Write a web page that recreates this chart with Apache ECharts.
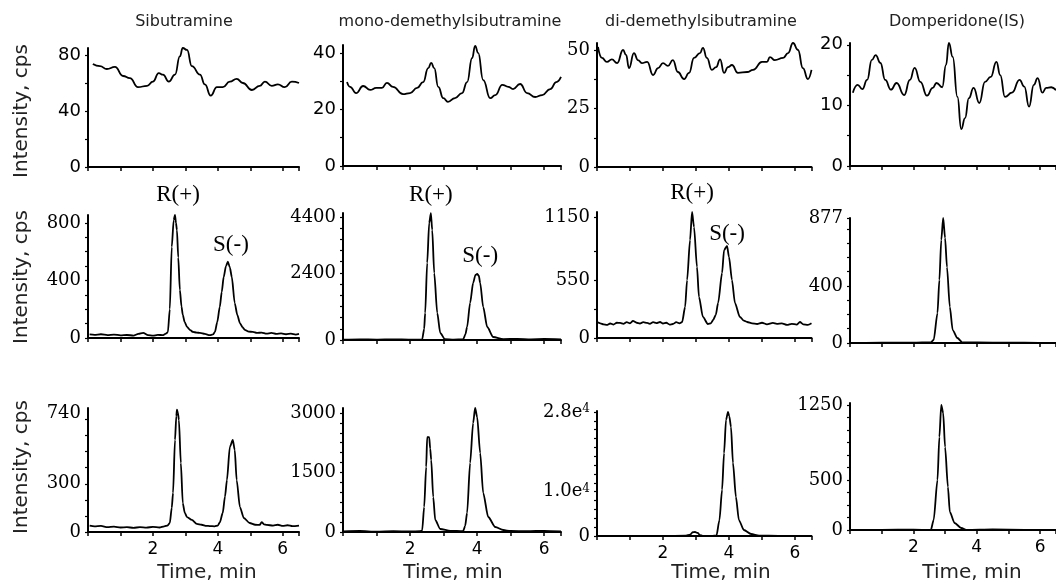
<!DOCTYPE html>
<html><head><meta charset="utf-8">
<script src="https://cdn.jsdelivr.net/npm/echarts@6/dist/echarts.min.js"></script>
<style>html,body{margin:0;padding:0;background:#fff}#c{width:1056px;height:585px}</style>
</head><body><div id="c"></div><script>
// ---------- text ----------
const columnTitles = ['Sibutramine', 'mono-demethylsibutramine', 'di-demethylsibutramine', 'Domperidone(IS)'];
const yTitle = 'Intensity, cps';
const xTitle = 'Time, min';
const xTickLabels = [2, 4, 6];

// ---------- row 1: blank ----------
const sibBlank = [[0.15,73.6],[0.37,72],[0.58,70],[0.83,71.5],[1.08,65],[1.29,63.5],[1.54,57],[1.82,58],[2.0,61],[2.18,67],[2.31,66],[2.49,61],[2.68,66],[2.83,79],[2.92,85],[3.05,83.6],[3.2,72],[3.45,66],[3.6,59],[3.78,51],[3.97,57],[4.15,57],[4.37,61],[4.58,63],[4.77,60],[5.05,55],[5.29,58],[5.45,61],[5.66,58],[5.85,59],[6.06,57],[6.28,61],[6.5,60]];
const monoBlank = [[0.12,29.7],[0.21,28],[0.39,25.8],[0.6,28.3],[0.81,26.9],[0.99,27.6],[1.16,27.6],[1.31,29.4],[1.49,28],[1.79,25.4],[2.0,25.8],[2.21,27.6],[2.39,29.7],[2.54,34.6],[2.63,36.5],[2.72,34.6],[2.84,28],[2.99,24],[3.13,22.7],[3.34,24],[3.55,25.8],[3.7,29.7],[3.85,38.2],[3.94,42.5],[4.03,40],[4.18,30.4],[4.39,24],[4.54,25.1],[4.75,28.7],[4.93,28],[5.07,27.2],[5.28,29],[5.49,25.8],[5.73,24.4],[5.94,25.1],[6.18,27.2],[6.36,29.7],[6.5,31.5]];
const diBlank = [[0.03,51.3],[0.15,46.6],[0.3,44.9],[0.45,46],[0.61,44.4],[0.79,50],[0.88,47.9],[0.97,42.3],[1.12,48.7],[1.24,45.7],[1.36,44.4],[1.52,44.9],[1.7,39.3],[1.85,42.3],[2.0,44.4],[2.15,43.2],[2.3,45.7],[2.45,40.6],[2.64,37.6],[2.79,40.2],[2.94,46.6],[3.12,48.7],[3.21,50.9],[3.33,46.6],[3.48,41.5],[3.61,42.7],[3.73,46],[3.85,40.2],[3.97,42.7],[4.09,43.6],[4.27,40.2],[4.55,40.6],[4.73,41.5],[5.0,44.9],[5.15,44.9],[5.24,47],[5.39,45.7],[5.64,46.6],[5.79,48.7],[5.94,53],[6.09,50],[6.24,42.3],[6.39,37.6],[6.5,41.5]];
const domBlank = [[0.09,12.1],[0.24,13.4],[0.39,12.7],[0.54,14.2],[0.69,17.5],[0.81,18.3],[0.96,17],[1.11,14.2],[1.29,12.6],[1.47,13.7],[1.71,11.7],[1.89,14.2],[2.04,16.2],[2.22,13.9],[2.43,11.6],[2.61,12.9],[2.73,13.7],[2.91,13],[3.03,16.7],[3.12,20.3],[3.24,18],[3.39,11.4],[3.51,6.1],[3.63,7.9],[3.75,11.2],[3.9,12.9],[4.08,10.4],[4.26,13.9],[4.44,14.7],[4.62,17.2],[4.74,15],[4.89,11.4],[5.11,12.1],[5.35,14.2],[5.5,13.1],[5.65,9.8],[5.8,13.4],[5.92,14.5],[6.07,12.1],[6.19,12.9],[6.35,13],[6.5,12.5]];

// ---------- row 2: standard ----------
const sibStd = [[0.05,25],[0.2,22],[0.4,26],[0.6,20],[0.8,24],[1.0,18],[1.2,21],[1.4,17],[1.55,28],[1.7,35],[1.85,20],[2.0,16],[2.15,22],[2.3,20],[2.4,30],[2.46,40],[2.52,200],[2.58,633],[2.64,820],[2.68,855],[2.71,800],[2.74,750],[2.78,560],[2.83,334],[2.88,220],[2.92,160],[2.98,110],[3.05,77],[3.15,55],[3.23,42],[3.35,38],[3.45,35],[3.6,28],[3.75,20],[3.85,25],[3.91,42],[3.98,110],[4.06,216],[4.12,320],[4.18,424],[4.25,500],[4.31,530],[4.37,490],[4.43,424],[4.52,243],[4.6,160],[4.68,104],[4.76,75],[4.83,56],[4.95,45],[5.08,42],[5.2,35],[5.35,38],[5.5,30],[5.65,35],[5.8,28],[5.95,32],[6.1,26],[6.25,30],[6.4,24],[6.5,28]];
const monoStd = [[0,10],[0.5,20],[1.0,15],[1.5,25],[2.0,15],[2.3,10],[2.36,20],[2.42,400],[2.45,966],[2.51,2755],[2.57,4186],[2.62,4540],[2.66,3935],[2.72,2397],[2.81,966],[2.9,250],[3.04,30],[3.3,15],[3.58,20],[3.65,200],[3.7,465],[3.79,1324],[3.88,2039],[3.95,2330],[4.0,2361],[4.05,2300],[4.09,2039],[4.18,1180],[4.3,465],[4.48,107],[4.78,30],[5.2,40],[5.6,25],[6.0,35],[6.5,20]];
const diStd = [[0,152],[0.1,140],[0.2,130],[0.3,124],[0.4,138],[0.5,128],[0.6,145],[0.7,143],[0.8,135],[0.9,150],[1.0,140],[1.09,162],[1.2,145],[1.3,138],[1.4,150],[1.52,143],[1.6,135],[1.7,150],[1.8,142],[1.91,152],[2.0,138],[2.1,145],[2.2,128],[2.3,133],[2.4,150],[2.5,140],[2.58,152],[2.67,295],[2.73,551],[2.82,932],[2.88,1198],[2.94,1055],[3.03,675],[3.09,390],[3.21,200],[3.36,133],[3.45,140],[3.52,171],[3.6,220],[3.67,333],[3.79,618],[3.85,836],[3.94,875],[4.0,770],[4.09,551],[4.18,333],[4.33,200],[4.45,165],[4.55,152],[4.7,140],[4.85,133],[5.0,145],[5.15,130],[5.33,143],[5.45,135],[5.6,140],[5.76,124],[5.9,135],[6.05,128],[6.15,152],[6.25,130],[6.39,124],[6.5,140]];
const domStd = [[0,0],[1,3],[2,2],[2.55,5],[2.64,21],[2.76,210],[2.82,442],[2.88,723],[2.94,877],[3.0,737],[3.06,533],[3.15,253],[3.24,91],[3.39,35],[3.54,5],[4.5,3],[5.5,2],[6.5,0]];

// ---------- row 3: sample ----------
const sibSample = [[0.05,40],[0.2,35],[0.4,38],[0.6,30],[0.8,33],[1.0,28],[1.2,30],[1.4,26],[1.6,30],[1.8,27],[2.0,32],[2.2,28],[2.35,35],[2.45,40],[2.52,56],[2.58,150],[2.62,243],[2.68,572],[2.72,720],[2.74,760],[2.77,740],[2.8,697],[2.86,429],[2.92,180],[2.98,120],[3.05,93],[3.2,75],[3.35,50],[3.5,45],[3.65,38],[3.75,37],[3.9,35],[4.0,40],[4.06,60],[4.15,118],[4.22,220],[4.28,323],[4.37,529],[4.46,572],[4.52,510],[4.58,323],[4.68,155],[4.8,87],[4.98,56],[5.15,45],[5.29,44],[5.35,62],[5.42,48],[5.51,44],[5.7,40],[5.85,45],[6.0,38],[6.15,42],[6.3,36],[6.5,40]];
const monoSample = [[0,15],[0.5,25],[1.0,10],[1.5,20],[2.0,15],[2.3,20],[2.36,40],[2.42,630],[2.48,1639],[2.51,2390],[2.57,2390],[2.6,2100],[2.63,1815],[2.69,882],[2.75,302],[2.9,76],[3.2,30],[3.58,20],[3.64,150],[3.7,479],[3.79,1739],[3.88,2748],[3.94,3126],[4.0,2899],[4.09,1991],[4.18,983],[4.33,378],[4.54,126],[4.78,50],[4.99,25],[5.5,20],[6.0,30],[6.5,15]];
const diSample = [[0,0],[1,50],[2,30],[2.7,60],[2.82,300],[2.9,850],[2.97,900],[3.05,700],[3.12,200],[3.2,50],[3.5,40],[3.62,100],[3.71,3600],[3.79,10400],[3.85,18700],[3.91,26200],[3.97,28000],[4.01,27000],[4.06,24600],[4.12,16500],[4.21,8800],[4.3,3600],[4.45,1350],[4.67,450],[4.91,100],[5.5,50],[6.5,0]];
const domSample = [[0,0],[1,2],[2,3],[2.55,0],[2.64,100],[2.76,500],[2.82,930],[2.88,1250],[2.94,1170],[3.0,830],[3.09,430],[3.15,180],[3.3,70],[3.51,20],[3.69,0],[4.5,5],[5.5,2],[6.5,0]];

// ---------- y-axis tick labels / ticks ----------
const yLabels = [
  [0,40,80],[0,20,40],[0,25,50],[0,10,20],
  [0,400,800],[0,2400,4400],[0,550,1150],[0,400,877],
  [0,300,740],[0,1500,3000],[0,10000,28000],[0,500,1250]
];
const yTicks = [
  [0,20,40,60,80],[0,10,20,30,40],[0,12.5,25,37.5,50],[0,5,10,15,20],
  [0,100,200,300,400,500,600,700,800],[0,400,800,1200,1600,2000,2400,2800,3200,3600,4000,4400],[0,275,550,825,1150],[0,100,200,300,400,500,600,700,800,877],
  [0,100,200,300,400,500,600,700],[0,250,500,750,1000,1250,1500,1750,2000,2250,2500,2750,3000],[0,2000,4000,6000,8000,10000,12000,14000,16000,18000,20000,22000,24000,26000,28000],[0,125,250,375,500,625,750,875,1000,1125,1250]
];
const yMax = [85,42.8,53,20.3, 855,4543,1198,877, 771,3126,28200,1270];

const panelData = [sibBlank, monoBlank, diBlank, domBlank, sibStd, monoStd, diStd, domStd, sibSample, monoSample, diSample, domSample];

// peak annotations: [panel, t, intensity, text, dx, dy]
const peakNotes = [
  [4, 2.68, 855, 'R(+)', 3, -20], [4, 4.31, 530, 'S(-)', 3, -17],
  [5, 2.62, 4540, 'R(+)', 0, -18], [5, 4.0, 2361, 'S(-)', 3, -18],
  [6, 2.88, 1198, 'R(+)', 0, -19], [6, 3.94, 875, 'S(-)', 0, -12]
];

// ---------- layout ----------
const colLeft = [88, 343, 597, 850];
const colWidth = [211, 218, 214.5, 216.5];
const panelTop = [48,45,43,43, 215,213,212,218, 408,408,411,403];
const panelBottom = [167,166,167,166, 338,340,338,343, 532,532,536,530];

const chart = echarts.init(document.getElementById('c'), null, {renderer: 'canvas'});
const grids = [], xAxes = [], yAxes = [], series = [];
for (let i = 0; i < 12; i++) {
  const r = Math.floor(i / 4), c = i % 4;
  grids.push({left: colLeft[c], width: colWidth[c], top: panelTop[i], height: panelBottom[i] - panelTop[i], containLabel: false});
  xAxes.push({
    type: 'value', gridIndex: i, min: 0, max: 6.5, interval: 1,
    axisLine: {show: true, onZero: false, lineStyle: {color: '#000', width: 2}},
    axisTick: {show: true, inside: false, length: 4, lineStyle: {color: '#000', width: 1.5}},
    splitLine: {show: false},
    axisLabel: r === 2 ? {show: true, customValues: xTickLabels, margin: 9, fontFamily: 'DejaVu Sans', fontSize: 17, color: '#000', formatter: v => String(v)} : {show: false}
  });
  const serif = !(r === 0 && c !== 2);
  const lbl = {
    show: true, customValues: yLabels[i], margin: 7,
    fontFamily: serif ? 'DejaVu Serif' : 'DejaVu Sans', fontSize: 18, color: '#000',
    formatter: v => String(v)
  };
  if (i === 10) {
    lbl.formatter = v => v === 0 ? '{m|0}' : '{m|' + (v / 10000).toFixed(1) + 'e}{s|4}';
    lbl.rich = {m: {fontFamily: 'DejaVu Serif', fontSize: 18, color: '#000', verticalAlign: 'bottom'}, s: {fontFamily: 'DejaVu Serif', fontSize: 12, color: '#000', verticalAlign: 'top'}};
  }
  yAxes.push({
    type: 'value', gridIndex: i, min: 0, max: yMax[i],
    axisLine: {show: true, onZero: false, lineStyle: {color: '#000', width: 2}},
    axisTick: {show: true, inside: false, length: 3, customValues: yTicks[i], lineStyle: {color: '#000', width: 1.2}},
    splitLine: {show: false},
    axisLabel: lbl
  });
  const notes = peakNotes.filter(p => p[0] === i);
  series.push({
    type: 'line', xAxisIndex: i, yAxisIndex: i, data: panelData[i],
    showSymbol: false, symbol: 'none', clip: false,
    smooth: r === 0 ? 0.5 : 0.25, smoothMonotone: 'x',
    lineStyle: {color: '#000', width: 1.8},
    markPoint: notes.length ? {
      symbol: 'circle', symbolSize: 0, silent: true,
      label: {show: true, position: 'inside', fontFamily: 'Liberation Serif', fontSize: 23, color: '#000'},
      data: notes.map(p => ({coord: [p[1], p[2]], label: {formatter: p[3], offset: [p[4], p[5]]}}))
    } : undefined
  });
}

const titleX = [184, 450, 701, 957];
const timeX = [207, 453, 721, 972];
const yTitleY = [111, 277, 467];
const graphic = [];
columnTitles.forEach((t, c) => graphic.push({type: 'text', x: titleX[c], y: 22, style: {text: t, align: 'center', verticalAlign: 'middle', font: '16px "DejaVu Sans"', fill: '#222'}}));
yTitleY.forEach(y => graphic.push({type: 'text', x: 22, y: y, rotation: Math.PI / 2, style: {text: yTitle, align: 'center', verticalAlign: 'middle', font: '20px "DejaVu Sans"', fill: '#222'}}));
timeX.forEach(x => graphic.push({type: 'text', x: x, y: 573, style: {text: xTitle, align: 'center', verticalAlign: 'middle', font: '20px "DejaVu Sans"', fill: '#222'}}));

chart.setOption({
  animation: false,
  backgroundColor: '#fff',
  grid: grids, xAxis: xAxes, yAxis: yAxes, series: series, graphic: graphic
});
</script></body></html>
